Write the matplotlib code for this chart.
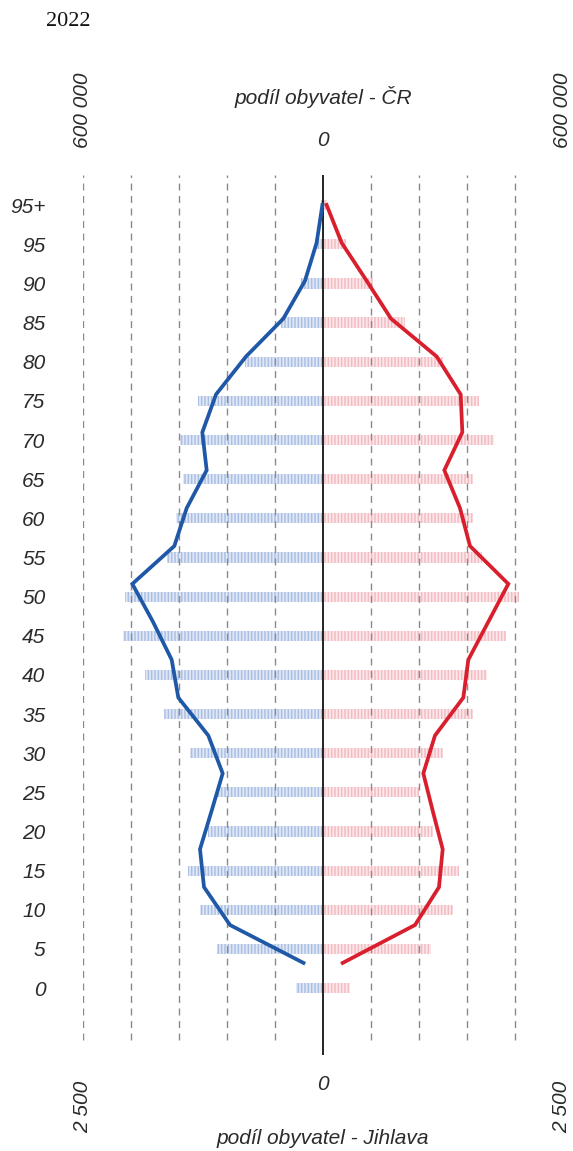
import matplotlib
matplotlib.use("Agg")
import matplotlib.pyplot as plt
import numpy as np

plt.rcParams['font.family'] = ['Liberation Sans', 'DejaVu Sans']
plt.rcParams['hatch.linewidth'] = 1.1

# ---- data ----
age_labels = ['0', '5', '10', '15', '20', '25', '30', '35', '40', '45', '50',
              '55', '60', '65', '70', '75', '80', '85', '90', '95', '95+']
# Jihlava (bottom axis, bars)
jihlava_muzi = [281, 1107, 1281, 1403, 1195, 1107, 1385, 1653, 1854, 2085, 2063,
                1628, 1531, 1462, 1490, 1299, 812, 437, 232, 83, 20]
jihlava_zeny = [281, 1125, 1357, 1417, 1149, 1003, 1253, 1559, 1705, 1906, 2042,
                1653, 1559, 1559, 1784, 1622, 1247, 854, 518, 240, 45]
# ČR (top axis, lines)
cr_muzi = [48750, 232500, 297500, 307500, 278800, 250800, 286700, 361700, 378300,
           425000, 476700, 371700, 340800, 290800, 301700, 267500, 192500, 99200,
           45000, 16000, 1500]
cr_zeny = [49200, 230000, 290000, 299200, 274600, 250800, 280000, 350800, 363300,
           413300, 463300, 367500, 342500, 303300, 348300, 344200, 284200, 170000,
           109000, 46700, 9000]

cr_max = 600000
jihlava_max = 2500

W, H = 573, 1151
fig = plt.figure(figsize=(W / 100, H / 100), dpi=100)

def fx(x):
    return x / W

def fy(y):
    return 1 - y / H

ax_left, ax_right, ax_top, ax_bot = 83, 563, 175, 1055
rect = [fx(ax_left), fy(ax_bot), (ax_right - ax_left) / W, (ax_bot - ax_top) / H]

# bars axis
ax = fig.add_axes(rect)
ax.set_xlim(-jihlava_max, jihlava_max)
ax.set_ylim(-1.71, 20.77)
idx = np.arange(len(age_labels))
bh = 0.26
ax.barh(idx, [-v for v in jihlava_muzi], height=bh, color='#e2e9f6',
        edgecolor='#aabfe4', linewidth=0, hatch='|||||', zorder=1)
ax.barh(idx, jihlava_zeny, height=bh, color='#fce8ea',
        edgecolor='#f2bcc3', linewidth=0, hatch='|||||', zorder=1)

# gridlines
for k in range(-5, 5):
    if k == 0:
        continue
    ax.axvline(k * jihlava_max / 5, ymin=0.017, ymax=1, color='#8a8a8a',
               lw=1.0, dashes=(5, 4), zorder=2)
ax.axvline(0, color='#222222', lw=1.4, zorder=3)

ax.set_yticks(idx)
ax.set_yticklabels(age_labels, fontsize=15, fontstyle='italic', color='#2a2a2a')
ax.tick_params(axis='y', length=0, pad=27)
ax.set_xticks([])
for s in ax.spines.values():
    s.set_visible(False)

# lines axis
ax2 = fig.add_axes(rect)
ax2.patch.set_alpha(0)
ax2.set_xlim(-cr_max, cr_max)
ax2.set_ylim(-2.43, 20.79)
ax2.plot([-v for v in cr_muzi], idx, color='#1f58a7', lw=2.7, zorder=5,
         solid_joinstyle='miter')
ax2.plot(cr_zeny, idx, color='#d91f2d', lw=2.7, zorder=5,
         solid_joinstyle='miter')
ax2.axis('off')

# texts
tkw = dict(fontsize=15, fontstyle='italic', color='#2a2a2a', ha='center', va='center')
fig.text(fx(323), fy(97), 'podíl obyvatel - ČR', **tkw)
fig.text(fx(323), fy(141), '0', **tkw)
fig.text(fx(83), fy(110), '600 000', rotation=90, **tkw)
fig.text(fx(562), fy(110), '600 000', rotation=90, **tkw)
fig.text(fx(323), fy(1084), '0', **tkw)
fig.text(fx(83), fy(1107), '2 500', rotation=90, **tkw)
fig.text(fx(562), fy(1107), '2 500', rotation=90, **tkw)
fig.text(fx(323), fy(1138), 'podíl obyvatel - Jihlava', **tkw)
fig.text(fx(46), fy(22), '2022', fontsize=16, family=['Liberation Serif', 'DejaVu Serif'],
         color='#111111', ha='left', va='center')

fig.savefig('out.png', dpi=100)
